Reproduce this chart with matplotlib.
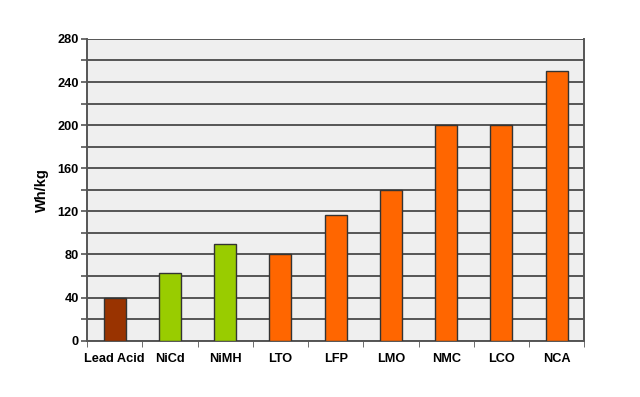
import matplotlib.pyplot as plt
import numpy as np

categories = ['Lead Acid', 'NiCd', 'NiMH', 'LTO', 'LFP', 'LMO', 'NMC', 'LCO', 'NCA']
energy = [40, 62.5, 90, 80, 117, 140, 200, 200, 250]
colors = ['#993300', '#99CC00', '#99CC00', '#FF6600', '#FF6600',
          '#FF6600', '#FF6600', '#FF6600', '#FF6600']
yticks = list(range(0, 281, 40))

plt.rcParams['font.family'] = ['Liberation Sans', 'DejaVu Sans']
plt.rcParams['font.weight'] = 'bold'

fig = plt.figure(figsize=(6.4, 3.97), dpi=100)
ax = fig.add_axes([0.136, 0.142, 0.777, 0.76])
ax.set_facecolor('#EFEFEF')

x = np.arange(len(categories))
ax.bar(x, energy, width=0.4, color=colors, edgecolor='#333333', linewidth=1.0, zorder=3)

ax.set_xlim(-0.5, len(categories) - 0.5)
ax.set_ylim(0, 280)
ax.set_yticks(yticks)
ax.set_yticks(range(0, 281, 20), minor=True)
ax.set_yticklabels([str(v) for v in yticks], fontsize=9.2, fontweight='bold')
ax.set_xticks(x)
ax.set_xticklabels(categories, fontsize=9.2, fontweight='bold')
ax.set_xticks(np.arange(-0.5, len(categories), 1), minor=True)

ax.tick_params(axis='x', which='major', length=0, pad=9)
ax.tick_params(axis='x', which='minor', length=4, color='#555555', direction='out')
ax.tick_params(axis='y', which='both', length=4, color='#555555', direction='out', width=1.2)
ax.tick_params(axis='y', which='major', pad=2)

ax.grid(True, axis='y', which='both', color='#555555', linewidth=1.4, zorder=1)
ax.set_axisbelow(True)
for side in ['left', 'bottom', 'right', 'top']:
    ax.spines[side].set_color('#555555')
    ax.spines[side].set_linewidth(1.4)
ax.spines['top'].set_visible(False)

ax.set_ylabel('Wh/kg', fontsize=10.5, fontweight='bold', labelpad=6)

fig.savefig('out.png', dpi=100)
